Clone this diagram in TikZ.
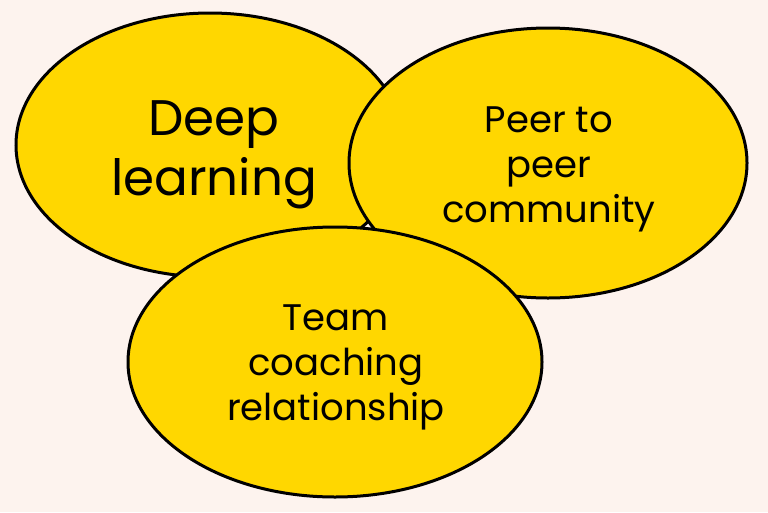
\documentclass[tikz,border=0pt]{standalone}
\usepackage{fontspec}
\setmainfont{Poppins}
\usetikzlibrary{shapes.geometric}
\definecolor{bg}{HTML}{FDF3EE}
\definecolor{yel}{HTML}{FFD700}
\begin{document}
\begin{tikzpicture}[x=1pt,y=-1pt,
  blob/.style={ellipse, draw=black, line width=3pt, fill=yel, inner sep=0pt},
  lbl/.style={align=center, text=black, inner sep=0pt, anchor=base}]
\fill[bg] (0,0) rectangle (768,512);
\useasboundingbox (0,0) rectangle (768,512);
\node[blob, minimum width=388pt, minimum height=264pt] (deep) at (210,145) {};
\node[blob, minimum width=398pt, minimum height=270pt] (peer) at (548,163) {};
\node[blob, minimum width=414pt, minimum height=270pt] (team) at (335,362) {};
\node[lbl, font={\fontsize{50}{60}\selectfont}] (tdeep) at (214,195) {Deep\\learning};
\node[lbl, font={\fontsize{37}{45}\selectfont}] (tpeer) at (549,222) {Peer to\\peer\\community};
\node[lbl, font={\fontsize{37}{45}\selectfont}] (tteam) at (336,420) {Team\\coaching\\relationship};
\end{tikzpicture}
\end{document}
